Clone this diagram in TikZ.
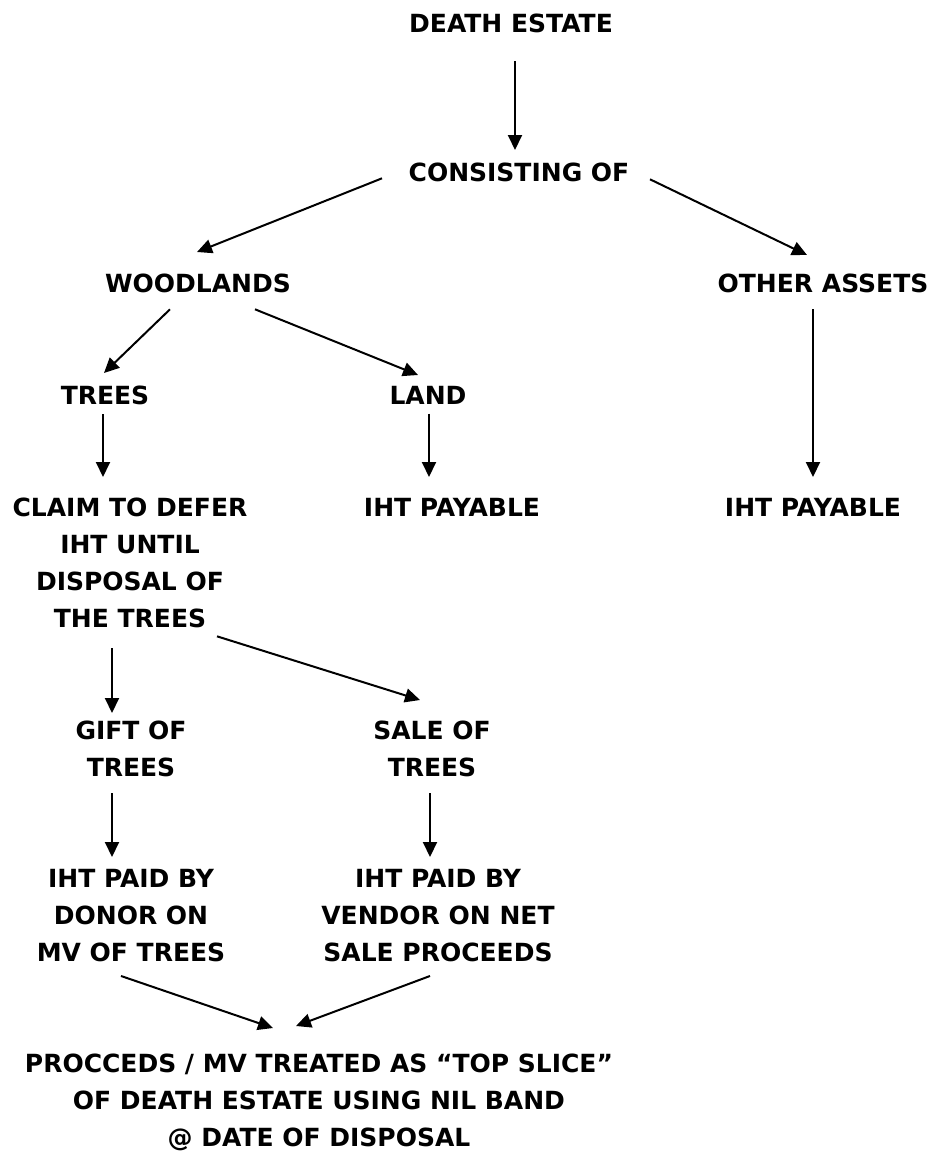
\documentclass[tikz,border=0pt]{standalone}
\usepackage{fontspec}
\setmainfont{DejaVu Sans}
\usetikzlibrary{arrows.meta}

\begin{document}
\begin{tikzpicture}[x=1pt, y=-1pt, >={Triangle[length=15pt,width=14pt]},
    lbl/.style={anchor=north, inner sep=0pt, align=center,
                font=\fontsize{25}{37}\selectfont\bfseries},
    arr/.style={->, line width=2pt}]

\useasboundingbox (0,0) rectangle (933,1151);

\node[lbl] (dest)  at (511, 14) {DEATH ESTATE};
\node[lbl] (cons)  at (519,163) {CONSISTING OF};
\node[lbl] (wood)  at (198,274) {WOODLANDS};
\node[lbl] (other) at (823,274) {OTHER ASSETS};
\node[lbl] (trees) at (105,386) {TREES};
\node[lbl] (land)  at (428,386) {LAND};

\node[lbl] (claim)    at (130,498) {CLAIM TO DEFER\\IHT UNTIL\\DISPOSAL OF\\THE TREES};
\node[lbl] (ihtland)  at (452,498) {IHT PAYABLE};
\node[lbl] (ihtother) at (813,498) {IHT PAYABLE};

\node[lbl] (gift) at (131,721) {GIFT OF\\TREES};
\node[lbl] (sale) at (432,721) {SALE OF\\TREES};

\node[lbl] (donor)  at (131,869) {IHT PAID BY\\DONOR ON\\MV OF TREES};
\node[lbl] (vendor) at (438,869) {IHT PAID BY\\VENDOR ON NET\\SALE PROCEEDS};

\node[lbl] (slice) at (319,1054)
    {PROCCEDS / MV TREATED AS “TOP SLICE”\\OF DEATH ESTATE USING NIL BAND\\@ DATE OF DISPOSAL};

% top of the tree
\draw[arr] ([shift={(4,28)}]dest.south) -- ([shift={(-4,-13)}]cons.north);
\draw[arr] ([shift={(-137,-4)}]cons.south) -- ([shift={(-1,-22)}]wood.north);
\draw[arr] ([shift={(131,-3)}]cons.south) -- ([shift={(-16,-19)}]other.north);

% woodlands
\draw[arr] ([shift={(-28,16)}]wood.south) -- ([shift={(-1,-13)}]trees.north);
\draw[arr] ([shift={(57,16)}]wood.south) -- ([shift={(-10,-11)}]land.north);
\draw[arr] ([shift={(-2,9)}]trees.south) -- ([shift={(-27,-21)}]claim.north);
\draw[arr] ([shift={(1,9)}]land.south) -- ([shift={(-23,-21)}]ihtland.north);
\draw[arr] ([shift={(-10,16)}]other.south) -- ([shift={(0,-21)}]ihtother.north);

% disposal of the trees
\draw[arr] ([shift={(87,8)}]claim.south) -- ([shift={(-12,-21)}]sale.north);
\draw[arr] ([shift={(-18,20)}]claim.south) -- ([shift={(-19,-8)}]gift.north);
\draw[arr] ([shift={(-19,16)}]gift.south) -- ([shift={(-19,-12)}]donor.north);
\draw[arr] ([shift={(-2,16)}]sale.south) -- ([shift={(-8,-12)}]vendor.north);
\draw[arr] ([shift={(-10,14)}]donor.south) -- ([shift={(-46,-26)}]slice.north);
\draw[arr] ([shift={(-8,14)}]vendor.south) -- ([shift={(-23,-28)}]slice.north);

\end{tikzpicture}
\end{document}
